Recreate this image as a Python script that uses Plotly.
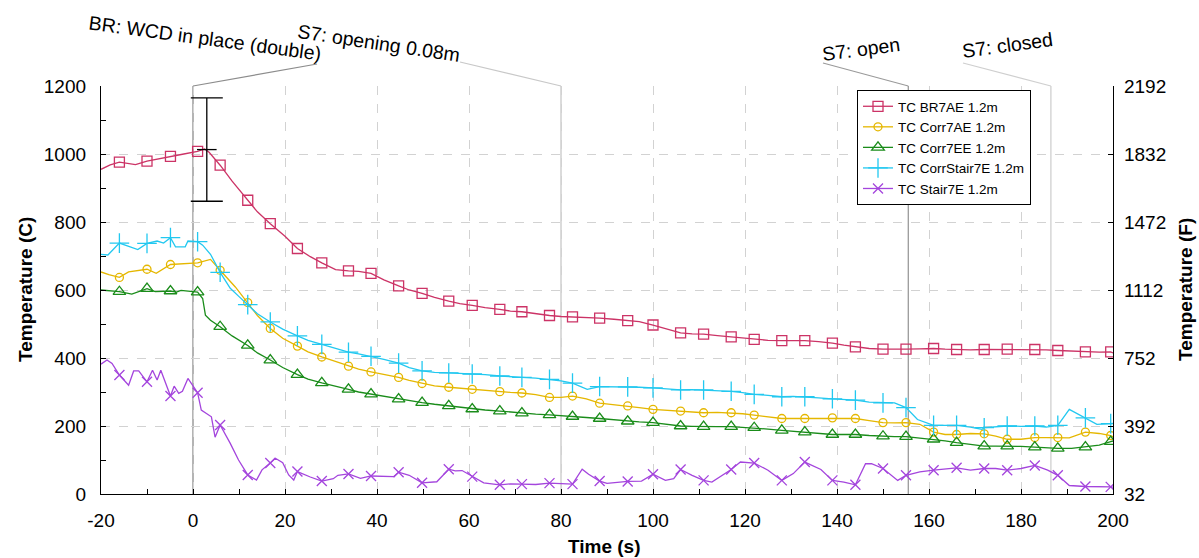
import plotly.graph_objects as go

# ---------------- data ----------------
marker_t = [-16, -10, -4.9, 1, 5.9, 11.9, 16.8, 22.7, 28, 33.8, 38.7, 44.7, 49.8, 55.6, 60.7,
            66.7, 71.5, 77.5, 82.5, 88.4, 94.5, 100, 106, 111, 117, 122, 128, 133, 139, 144,
            150, 155, 161, 166, 172, 177, 183, 188, 194, 199.5]

# TC BR7AE 1.2m
br_mv = [976, 979, 993, 1008, 967, 864, 795, 722, 680, 656, 649, 612, 590, 567, 555,
         543, 536, 525, 521, 517, 510, 497, 474, 470, 462, 455, 451, 451, 444, 433,
         426, 426, 428, 425, 425, 426, 425, 422, 418, 418]
br_xt = [-20, -18, -14, -12.5, -7.5, -2, 2.5, 3.5, 8.5, 14, 20, 25.5, 31, 36, 41.5, 47, 52.5, 58,
         63.5, 69, 74.5, 80, 85.5, 91.5, 97, 103, 108.5, 114, 119.5, 125, 130.5, 136, 141.5, 147,
         152.5, 158, 163.5, 169, 174.5, 180, 185.5, 191, 197, 200]
br_xv = [955, 968, 972, 969, 985, 1000, 1015, 1005, 920, 830, 758, 698, 660, 655, 630, 600, 578, 560,
         548, 538, 530, 522, 519, 514, 507, 485, 471, 466, 458, 452, 451, 448, 438, 428,
         425, 427, 426, 424, 425, 424, 424, 420, 417, 415]

# TC Corr7AE 1.2m
c7a_mv = [637, 661, 675, 680, 658, 563, 487, 435, 403, 376, 359, 343, 325, 314, 308,
          301, 297, 284, 288, 267, 259, 249, 244, 239, 239, 232, 222, 222, 224, 222,
          210, 210, 182, 175, 177, 161, 166, 166, 182, 172]
c7a_xt = [-20, -18.3, -14, -8, -2, 3.8, 5.2, 9.2, 14, 19.5, 25, 31, 36, 41.5, 47, 52.5, 58, 63.5,
          69, 74.5, 80, 85.5, 91.5, 97, 103, 108.5, 114, 119.5, 125, 130.5, 136, 141.5, 147,
          152.5, 158, 163.5, 169, 174.5, 180, 185.5, 190.5, 197, 200]
c7a_xv = [653, 645, 653, 649, 677, 690, 670, 609, 525, 458, 418, 389, 367, 352, 334, 318, 311, 305,
          299, 292, 284, 280, 263, 254, 246, 241, 240, 236, 226, 222, 223, 223, 216,
          209, 205, 175, 178, 170, 161, 166, 165, 178, 168]

# TC Corr7EE 1.2m
c7e_mv = [595, 604, 597, 594, 492, 437, 394, 351, 327, 308, 294, 279, 269, 259, 250,
          244, 238, 233, 228, 222, 214, 210, 200, 198, 198, 195, 187, 182, 175, 175,
          170, 169, 161, 151, 141, 141, 138, 134, 138, 154]
c7e_xt = [-20, -18, -13.3, -8.2, -3.6, -2.6, 2.1, 2.7, 3.8, 8.5, 14, 19.5, 25, 31, 36, 41.5, 47,
          52.5, 58, 63.5, 69, 74.5, 80, 85.5, 91.5, 97, 103, 108.5, 114, 119.5, 125, 130.5, 136,
          141.5, 147, 152.5, 158, 163.5, 169, 174.5, 180, 185.5, 191, 197, 200]
c7e_xv = [600, 598, 588, 595, 594, 599, 575, 526, 511, 465, 415, 372, 338, 318, 300, 287, 274,
          264, 254, 247, 241, 235, 231, 225, 218, 212, 205, 199, 198, 196, 191, 184, 178,
          175, 172, 169, 165, 156, 146, 141, 140, 136, 134, 144, 156]

# TC CorrStair7E 1.2m
cs_mv = [738, 737, 754, 742, 652, 557, 506, 465, 440, 417, 405, 385, 362, 356, 353,
         347, 343, 337, 326, 316, 315, 312, 306, 306, 302, 293, 286, 286, 280, 276,
         268, 254, 202, 202, 195, 200, 200, 202, 224, 207]
cs_xt = [-20, -18.5, -14.7, -12, -7.8, -6.4, -3.8, -1.7, -1.1, 2.1, 3.8, 8.1, 9.9, 14, 19.5, 25,
         31, 36, 41.5, 47, 52.5, 58, 63.5, 69, 74.5, 80, 85.7, 91.5, 97, 103, 108.5, 114, 119.5,
         125, 130.5, 136, 141.5, 147, 152.5, 157.5, 163.5, 169, 171.5, 174.5, 180, 185.5, 190.5,
         196.5, 200]
cs_xv = [705, 703, 732, 719, 744, 738, 727, 727, 744, 732, 705, 605, 582, 530, 485, 452,
         428, 412, 396, 372, 358, 355, 351, 346, 341, 333, 308, 316, 314, 308, 307, 304, 298,
         290, 287, 283, 278, 270, 268, 219, 202, 197, 190, 198, 199, 197, 249,
         205, 208]

# TC Stair7E 1.2m
st_mv = [350, 330, 288, 298, 203, 56, 91, 66, 38, 59, 53, 64, 33, 73, 51,
         27, 29, 32, 29, 38, 37, 58, 72, 40, 72, 91, 40, 94, 40, 27,
         75, 55, 70, 77, 75, 70, 84, 55, 22, 21]
st_xt = [-20, -18.7, -17.6, -14, -12.9, -11.8, -8.8, -7.8, -7, -4.1, -3.1, -2.3, -1.1, 1.8, 4,
         4.8, 8.1, 9.9, 13.8, 15, 17.9, 19.5, 20.8, 21.9, 25.5, 30.5, 31.5, 36.4, 41.5, 43.6, 47,
         53, 57, 58.5, 63.2, 69, 74.5, 80, 84.6, 86, 90, 97.5, 102.7, 104.5, 108.5, 112.8, 119,
         125, 130.5, 136.5, 141.5, 146.2, 147.5, 153.2, 158, 169, 174.5, 180, 185.8, 190.5, 200]
st_xv = [382, 394, 384, 320, 362, 362, 364, 335, 364, 317, 296, 302, 340, 247, 227,
         167, 149, 100, 41, 71, 105, 92, 56, 41, 50, 45, 55, 46, 51, 51, 55,
         36, 68, 69, 33, 30, 28, 30, 73, 58, 31, 38, 40, 45, 55, 35, 94,
         70, 60, 72, 35, 89, 89, 40, 65, 70, 75, 75, 70, 25, 20]

series_names = ["TC BR7AE 1.2m", "TC Corr7AE 1.2m", "TC Corr7EE 1.2m",
                "TC CorrStair7E 1.2m", "TC Stair7E 1.2m"]

# error bar at the event
err_t = [3]
err_v = [1013]
err_e = [152]

# events
event_t = [0, 80, 155.5, 186.5]
event_text = ["BR: WCD in place (double)", "S7: opening 0.08m", "S7: open", "S7: closed"]

# axes
x_range = [-20, 200]
x_ticks = [-20, 0, 20, 40, 60, 80, 100, 120, 140, 160, 180, 200]
y_range = [0, 1200]
f_range = [32, 2192]
f_ticks = [32, 392, 752, 1112, 1472, 1832, 2192]
x_title = "Time (s)"
y_title = "Temperature (C)"
y2_title = "Temperature (F)"

# ---------------- style ----------------
colors = ["#CC3366", "#E5B700", "#1A8C1A", "#22C8F0", "#A445DD"]
symbols = ["square-open", "circle-open", "triangle-up-open", "cross-thin-open", "x-thin-open"]
msizes = [10, 8, 11, 14, 10]
FONT = "Liberation Sans, Arial, sans-serif"

L, R, T, B = 101, 86, 86, 64
W, H = 1199 - L - R, 558 - T - B


def px_to_paper(px, py):
    return (px - L) / W, (T + H - py) / H


fig = go.Figure()

series = [(br_mv, br_xt, br_xv), (c7a_mv, c7a_xt, c7a_xv), (c7e_mv, c7e_xt, c7e_xv),
          (cs_mv, cs_xt, cs_xv), (st_mv, st_xt, st_xv)]

for i, (mv, xt, xv) in enumerate(series):
    pts = sorted(list(zip(marker_t, mv)) + list(zip(xt, xv)))
    lt = [p[0] for p in pts]
    lv = [p[1] for p in pts]
    fig.add_trace(go.Scatter(x=lt, y=lv, mode="lines", line=dict(color=colors[i], width=1.3),
                             showlegend=False, legendgroup=str(i), hoverinfo="skip"))
    fig.add_trace(go.Scatter(x=marker_t, y=mv, mode="markers",
                             marker=dict(symbol=symbols[i], size=msizes[i], color=colors[i],
                                         line=dict(color=colors[i], width=1.3)),
                             showlegend=False, legendgroup=str(i)))
    fig.add_trace(go.Scatter(x=[None], y=[None], mode="lines+markers", name=series_names[i],
                             line=dict(color=colors[i], width=1.3),
                             marker=dict(symbol=symbols[i], size=msizes[i], color=colors[i],
                                         line=dict(color=colors[i], width=1.3)),
                             legendgroup=str(i)))

# error bar
fig.add_trace(go.Scatter(x=err_t, y=err_v, mode="markers", showlegend=False,
                         marker=dict(symbol="line-ew", size=14, color="black",
                                     line=dict(color="black", width=1.3)),
                         error_y=dict(type="data", array=err_e, color="black", thickness=1.3, width=16)))

# dummy trace for right axis
fig.add_trace(go.Scatter(x=[x_range[0]], y=[f_range[0]], yaxis="y2", mode="markers",
                         marker=dict(opacity=0), showlegend=False, hoverinfo="skip"))

# events: vertical lines, leaders and labels
ev_colors = ["#8c8c8c", "#c8c8c8", "#9a9a9a", "#cfcfcf"]
ev_label_center = [(205, 38), (379, 43), (861, 49), (1007, 45)]
ev_label_angle = [7.7, 8.5, -7.5, -7.8]
ev_leader_end = [(317, 64), (460, 62), (823, 63), (963, 63)]

for k, t in enumerate(event_t):
    fig.add_shape(type="line", xref="x", yref="paper", x0=t, x1=t, y0=0, y1=1,
                  line=dict(color=ev_colors[k], width=1.3), layer="below")
    exp = (t - x_range[0]) / (x_range[1] - x_range[0])
    lx, ly = px_to_paper(*ev_leader_end[k])
    fig.add_shape(type="line", xref="paper", yref="paper", x0=exp, y0=1, x1=lx, y1=ly,
                  line=dict(color=ev_colors[k], width=1.2))
    cx, cy = px_to_paper(*ev_label_center[k])
    fig.add_annotation(x=cx, y=cy, xref="paper", yref="paper", text=event_text[k],
                       showarrow=False, textangle=ev_label_angle[k], xanchor="center",
                       yanchor="middle", font=dict(family=FONT, size=19.5, color="black"))

# axis titles
title_font = dict(family=FONT, size=19, color="black")
for txt, pos, ang in [(x_title, (604, 546), 0), (y_title, (25, 290), -90), (y2_title, (1185, 290), -90)]:
    px_, py_ = px_to_paper(*pos)
    fig.add_annotation(x=px_, y=py_, xref="paper", yref="paper", text="<b>" + txt + "</b>",
                       showarrow=False, textangle=ang, xanchor="center", yanchor="middle",
                       font=title_font)

axis_common = dict(showline=True, linecolor="black", linewidth=1.3, ticks="inside",
                   tickcolor="black", ticklen=5, zeroline=False, automargin=False,
                   tickfont=dict(family=FONT, size=19, color="black"))

fig.update_layout(
    width=1199, height=558,
    margin=dict(l=L, r=R, t=T, b=B, autoexpand=False),
    paper_bgcolor="white", plot_bgcolor="white",
    font=dict(family=FONT, color="black"),
    xaxis=dict(range=x_range, tickvals=x_ticks, ticktext=[str(v) for v in x_ticks],
               showgrid=True, gridcolor="#d2d2d2", griddash="dash", gridwidth=1,
               minor=dict(ticks="inside", dtick=10, tick0=0, ticklen=5, tickcolor="black", showgrid=False),
               ticklabelstandoff=9,
               **axis_common),
    yaxis=dict(range=y_range, dtick=200, tick0=0,
               showgrid=True, gridcolor="#d2d2d2", griddash="dash", gridwidth=1,
               minor=dict(ticks="inside", dtick=100, tick0=0, ticklen=5, tickcolor="black", showgrid=False),
               ticklabelstandoff=10,
               **axis_common),
    yaxis2=dict(range=f_range, tickvals=f_ticks, overlaying="y", side="right",
                showgrid=False, ticklabelstandoff=6,
                **axis_common),
    legend=dict(x=px_to_paper(857, 0)[0], y=px_to_paper(0, 90)[1], xanchor="left", yanchor="top",
                bgcolor="white", bordercolor="black", borderwidth=1, itemwidth=30,
                font=dict(family=FONT, size=13.5, color="black"), tracegroupgap=0),
    showlegend=True,
)

fig.write_html("out.html", config={"displayModeBar": False},
               post_script="document.body.style.margin='0';document.body.style.padding='0';"
                           "document.documentElement.style.overflow='hidden';")
